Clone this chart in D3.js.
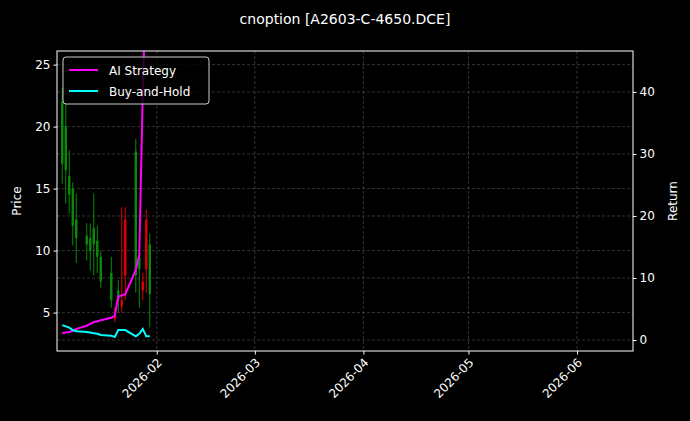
<!DOCTYPE html>
<html><head><meta charset="utf-8">
<script src="https://cdn.jsdelivr.net/npm/d3@7"></script>
<style>body{margin:0;background:#000}svg{display:block}text{font-family:"DejaVu Sans",sans-serif}</style>
</head><body><svg id="c" width="690" height="421"></svg>
<script>
const dates=["2026-01-05","2026-01-06","2026-01-07","2026-01-08","2026-01-09","2026-01-12","2026-01-13","2026-01-14","2026-01-15","2026-01-16","2026-01-19","2026-01-20","2026-01-21","2026-01-22","2026-01-23","2026-01-26","2026-01-27","2026-01-28","2026-01-29","2026-01-30"];
const open =[17.0,16.5,14.5,12.0,11.0,10.5,10.0,10.5,9.5,7.5,6.0,4.8,6.0,6.0,12.5,8.0,8.5,7.5,12.5,6.5];
const close=[22.0,20.0,16.0,15.0,12.5,11.2,11.0,11.8,10.8,9.5,8.2,4.5,6.8,5.5,8.0,18.0,9.5,6.8,8.5,10.5];
const high =[23.1,21.9,18.1,15.5,14.6,12.2,12.2,14.6,12.0,10.0,9.5,5.4,7.6,13.5,13.5,19.0,10.0,8.2,13.3,11.4];
const low  =[15.4,13.8,13.0,10.4,9.0,9.2,8.4,8.0,8.2,7.0,5.4,4.2,5.0,5.0,6.0,6.6,5.4,6.0,6.6,3.8];
const strategy=[1.1,1.2,1.3,1.5,1.8,2.3,2.6,2.9,3.0,3.2,3.6,3.9,7.0,7.2,7.4,11.3,13.7,40,60,80];
const buyhold=[2.4,2.2,2.0,1.6,1.4,1.3,1.2,1.1,1.0,0.8,0.7,0.5,1.6,1.6,1.6,0.6,1.0,1.8,0.6,0.6];
const priceTicks=[5,10,15,20,25];
const retTicks=[0,10,20,30,40];
const monthTicks=["2026-02-01","2026-03-01","2026-04-01","2026-05-01","2026-06-01"];

const P=d3.timeParse("%Y-%m-%d");
const svg=d3.select("#c");
const L=57,R=633,T=51,B=351;
const x=d3.scaleTime().domain([new Date(2026,0,3,12),new Date(2026,5,17)]).range([L,R]);
const y=d3.scaleLinear().domain([1.9,26.1]).range([B,T]);
const y2=d3.scaleLinear().domain([-1.77,46.6]).range([B,T]);
svg.append("rect").attr("width",690).attr("height",421).attr("fill","#000");
const grid=svg.append("g").attr("stroke","#555").attr("stroke-width",0.6).attr("stroke-dasharray","3,2");
monthTicks.forEach(m=>grid.append("line").attr("x1",x(P(m))).attr("x2",x(P(m))).attr("y1",T).attr("y2",B));
priceTicks.forEach(v=>grid.append("line").attr("x1",L).attr("x2",R).attr("y1",y(v)).attr("y2",y(v)));
retTicks.forEach(v=>grid.append("line").attr("x1",L).attr("x2",R).attr("y1",y2(v)).attr("y2",y2(v)));
svg.append("clipPath").attr("id","cp").append("rect").attr("x",L).attr("y",T).attr("width",R-L).attr("height",B-T);
const g=svg.append("g").attr("clip-path","url(#cp)");
dates.forEach((d,i)=>{
  const cx=x(P(d)), up=close[i]>=open[i], col=up?"#0a8a0a":"#e00000";
  g.append("line").attr("x1",cx).attr("x2",cx).attr("y1",y(high[i])).attr("y2",y(low[i])).attr("stroke",col).attr("stroke-width",1);
  g.append("rect").attr("x",cx-1.2).attr("width",2.4).attr("y",y(Math.max(open[i],close[i]))).attr("height",Math.max(1,Math.abs(y(open[i])-y(close[i])))).attr("fill",col);
});
const line=yy=>d3.line().x((v,i)=>x(P(dates[i]))).y(v=>yy(v));
g.append("path").datum(strategy).attr("d",line(y2)).attr("fill","none").attr("stroke","#ff00ff").attr("stroke-width",2);
g.append("path").datum(buyhold).attr("d",line(y2)).attr("fill","none").attr("stroke","#00ffff").attr("stroke-width",2);
const ax=svg.append("g").attr("transform",`translate(0,${B})`).call(d3.axisBottom(x).tickValues(monthTicks.map(P)).tickFormat(d3.timeFormat("%Y-%m")).tickSize(3.5));
ax.selectAll("text").attr("transform","rotate(-45)").attr("text-anchor","end").attr("dx","-0.4em").attr("dy","0.5em");
const ay=svg.append("g").attr("transform",`translate(${L},0)`).call(d3.axisLeft(y).tickValues(priceTicks).tickSize(3.5));
const ay2=svg.append("g").attr("transform",`translate(${R},0)`).call(d3.axisRight(y2).tickValues(retTicks).tickSize(3.5));
[ax,ay,ay2].forEach(a=>{a.selectAll("text").attr("fill","#fff").attr("font-size",12);a.selectAll("line").attr("stroke","#fff");a.select(".domain").remove();});
svg.append("rect").attr("x",L).attr("y",T).attr("width",R-L).attr("height",B-T).attr("fill","none").attr("stroke","#fff").attr("stroke-width",1);
svg.append("text").attr("x",345).attr("y",24).attr("text-anchor","middle").attr("fill","#fff").attr("font-size",14).text("cnoption [A2603-C-4650.DCE]");
svg.append("text").attr("transform","translate(21,201) rotate(-90)").attr("text-anchor","middle").attr("fill","#fff").attr("font-size",12).text("Price");
svg.append("text").attr("transform","translate(677,201) rotate(-90)").attr("text-anchor","middle").attr("fill","#fff").attr("font-size",12).text("Return");
const lg=svg.append("g");
lg.append("rect").attr("x",63).attr("y",57).attr("width",146).attr("height",47).attr("rx",3).attr("fill","#000").attr("fill-opacity",0.8).attr("stroke","#ccc");
[["AI Strategy","#ff00ff"],["Buy-and-Hold","#00ffff"]].forEach((s,i)=>{
  const yy=70+i*21;
  lg.append("line").attr("x1",69).attr("x2",98).attr("y1",yy).attr("y2",yy).attr("stroke",s[1]).attr("stroke-width",2);
  lg.append("text").attr("x",109).attr("y",yy+4.5).attr("fill","#fff").attr("font-size",12).text(s[0]);
});
</script></body></html>
